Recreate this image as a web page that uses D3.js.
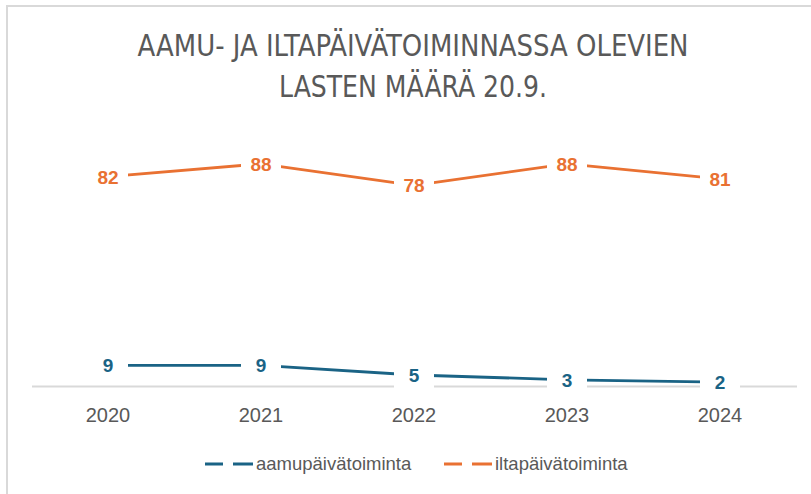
<!DOCTYPE html>
<html>
<head>
<meta charset="utf-8">
<script src="https://cdn.jsdelivr.net/npm/d3@7"></script>
<style>
  body { margin: 0; background: #fff; }
  svg { display: block; }
</style>
</head>
<body>
<div id="chart"></div>
<script>
var years = ["2020", "2021", "2022", "2023", "2024"];
var aamu = [9, 9, 5, 3, 2];
var ilta = [82, 88, 78, 88, 81];
var seriesNames = ["aamupäivätoiminta", "iltapäivätoiminta"];
var titleLines = ["AAMU- JA ILTAPÄIVÄTOIMINNASSA OLEVIEN", "LASTEN MÄÄRÄ 20.9."];

var W = 811, H = 494;
var blue = "#1a6385", orange = "#e97132", grey = "#595959";

var svg = d3.select("#chart").append("svg")
  .attr("width", W)
  .attr("height", H);

// frame (only left + top visible in the picture)
svg.append("rect")
  .attr("x", 7).attr("y", 6)
  .attr("width", W + 20).attr("height", H + 20)
  .attr("fill", "none")
  .attr("stroke", "#d9d9d9")
  .attr("stroke-width", 2);

// title
var titleWidths = [551, 268];
svg.selectAll(".title")
  .data(titleLines)
  .enter().append("text")
  .attr("class", "title")
  .attr("x", 413)
  .attr("y", function(d, i) { return 56 + i * 41; })
  .attr("text-anchor", "middle")
  .attr("textLength", function(d, i) { return titleWidths[i]; })
  .attr("lengthAdjust", "spacingAndGlyphs")
  .style("font-family", "'Liberation Sans Narrow', 'DejaVu Sans Condensed', 'Liberation Sans', sans-serif")
  .style("font-size", "31px")
  .attr("fill", grey)
  .text(function(d) { return d; });

var x = d3.scaleBand().domain(years).range([31.5, 796.5]);
var yA = d3.scaleLinear().domain([0, 10]).range([387, 363]);
var yI = d3.scaleLinear().domain([0, 100]).range([353, 138]);

// category axis
var xAxis = svg.append("g")
  .attr("transform", "translate(0,386)")
  .call(d3.axisBottom(x).tickSize(0).tickPadding(22));
xAxis.select(".domain").attr("stroke", "#d9d9d9").attr("stroke-width", 2);
xAxis.selectAll("text")
  .style("font-family", "'Liberation Sans', Arial, sans-serif")
  .style("font-size", "20px")
  .attr("fill", grey);

function drawSeries(vals, y, color) {
  var pts = vals.map(function(v, i) {
    return { x: x(years[i]) + x.bandwidth() / 2, y: y(v), v: v };
  });
  var line = d3.line()
    .x(function(d) { return d.x; })
    .y(function(d) { return d.y; });
  svg.append("path")
    .datum(pts)
    .attr("d", line)
    .attr("fill", "none")
    .attr("stroke", color)
    .attr("stroke-width", 2.8)
    .attr("stroke-linejoin", "round");

  var g = svg.selectAll(null).data(pts).enter().append("g")
    .attr("transform", function(d) { return "translate(" + d.x + "," + d.y + ")"; });
  g.append("rect")
    .attr("x", -20).attr("y", -13)
    .attr("width", 40).attr("height", 26)
    .attr("fill", "#fff");
  g.append("text")
    .attr("text-anchor", "middle")
    .attr("dy", "0.36em")
    .style("font-family", "'Liberation Sans', Arial, sans-serif")
    .style("font-size", "19px")
    .style("font-weight", "bold")
    .attr("fill", color)
    .text(function(d) { return d.v; });
}

drawSeries(aamu, yA, blue);
drawSeries(ilta, yI, orange);

// legend
var legendX = [205, 444];
var colors = [blue, orange];
var lg = svg.selectAll(".legend")
  .data(seriesNames)
  .enter().append("g")
  .attr("class", "legend")
  .attr("transform", function(d, i) { return "translate(" + legendX[i] + ",464)"; });
lg.append("line")
  .attr("x1", 0).attr("x2", 48)
  .attr("stroke", function(d, i) { return colors[i]; })
  .attr("stroke-width", 2.8)
  .attr("stroke-dasharray", "18,10,20");
lg.append("text")
  .attr("x", 51)
  .attr("dy", "0.35em")
  .style("font-family", "'Liberation Sans', Arial, sans-serif")
  .style("font-size", "18.5px")
  .attr("fill", grey)
  .text(function(d) { return d; });
</script>
</body>
</html>
